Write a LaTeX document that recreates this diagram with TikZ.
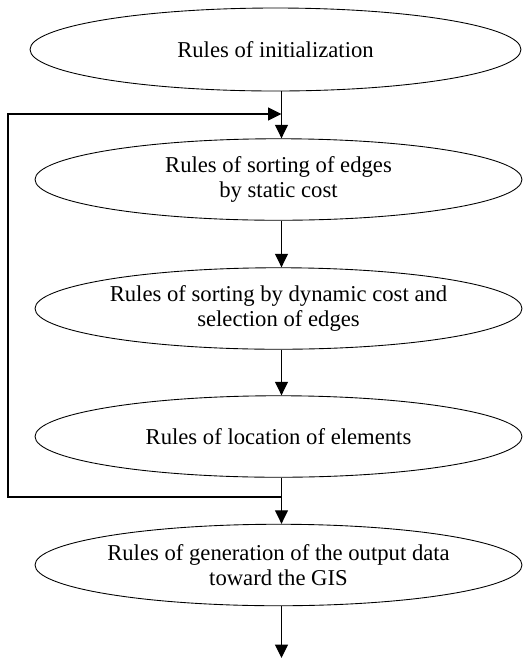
\documentclass[tikz,border=0pt]{standalone}
\usepackage{fontspec}
\setmainfont{Liberation Serif}
\usepackage{tikz}
\usetikzlibrary{arrows.meta,shapes.geometric}

\begin{document}
\begin{tikzpicture}[
		rule/.style={ellipse, draw, line width=0.5pt, inner sep=0pt, minimum width=9.74cm, minimum height=1.63cm, align=center, font=\fontsize{12.9}{14.6}\selectfont},
		arr/.style={line width=0.65pt, -{Triangle[length=0.27cm, width=0.26cm]}}
	]
	\useasboundingbox (0,0) rectangle (10.48,-13.18);
	\node[rule, minimum width=9.82cm, minimum height=1.66cm] (init) at (5.51, -0.99) {Rules of initialization};
	\node[rule] (static) at (5.57, -3.59) {Rules of sorting of edges\\by static cost};
	\node[rule] (dynamic) at (5.57, -6.17) {Rules of sorting by dynamic cost and\\selection of edges};
	\node[rule] (location) at (5.57, -8.73) {Rules of location of elements};
	\node[rule] (output) at (5.57, -11.30) {Rules of generation of the output data\\toward the GIS};
	\coordinate (join) at (5.63, -9.94);
	\coordinate (botleft) at (0.16, -9.94);
	\coordinate (topleft) at (0.16, -2.28);
	\coordinate (entry) at (5.63, -2.28);
	\coordinate (exit) at (5.63, -13.16);
	\draw[arr] (init.south -| join) -- (static.north -| join);
	\draw[arr] (static.south -| join) -- (dynamic.north -| join);
	\draw[arr] (dynamic.south -| join) -- (location.north -| join);
	\draw[arr] (location.south -| join) -- (output.north -| join);
	\draw[arr] (output.south -| join) -- (exit);
	\draw[arr] (join) -- (botleft) -- (topleft) -- (entry);
\end{tikzpicture}
\end{document}
